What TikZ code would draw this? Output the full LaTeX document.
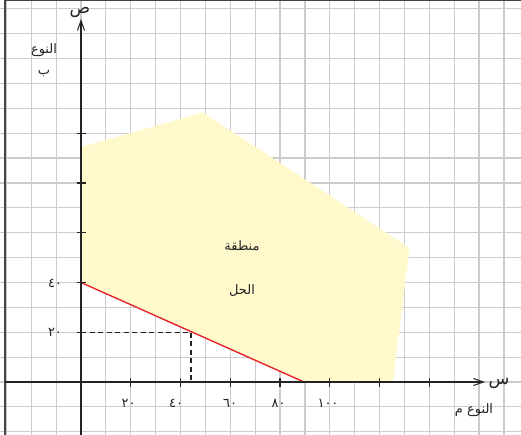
\documentclass[tikz,border=0pt]{standalone}
\usepackage{fontspec}
\usetikzlibrary{arrows.meta}
\TeXXeTstate=1
\newfontfamily\arabicfont[Script=Arabic]{DejaVu Sans}
\definecolor{gridgray}{RGB}{204,204,204}
\definecolor{regionyellow}{RGB}{255,249,204}
\definecolor{axisdark}{RGB}{35,35,35}
\definecolor{redline}{RGB}{232,38,42}
\tikzset{
  gridline/.style={draw=gridgray, line width=1.2pt},
  frameline/.style={draw=axisdark!85, line width=1.5pt},
  axisline/.style={draw=axisdark, line width=1.2pt},
  axisarrow/.style={axisline, -{Straight Barb[length=10pt,width=7pt,line width=1pt]}},
  tickmark/.style={draw=axisdark, line width=1.2pt},
  constraint/.style={draw=redline, line width=1.4pt},
  guide/.style={draw=axisdark, line width=1.1pt, dash pattern=on 5pt off 3.5pt},
  region/.style={fill=regionyellow},
  numlabel/.style={font=\arabicfont\fontsize{13}{15}\selectfont, text=axisdark, inner sep=0pt},
  wordlabel/.style={font=\arabicfont\fontsize{13}{15}\selectfont, text=axisdark, inner sep=0pt},
  axisletter/.style={font=\arabicfont\fontsize{17}{19}\selectfont, text=axisdark, inner sep=0pt}
}
\begin{document}
\begin{tikzpicture}[x=1pt,y=-1pt]
\useasboundingbox (0,0) rectangle (521,435);
\fill[white] (0,0) rectangle (521,435);
% grid
\foreach \k in {-3,...,17} \draw[gridline] ({81+24.88*\k},0) -- ({81+24.88*\k},435);
\foreach \k in {-2,...,15} \draw[gridline] (0,{382-24.88*\k}) -- (521,{382-24.88*\k});
% frame
\coordinate (FB) at (5,435);
\coordinate (FC) at (5,0.75);
\coordinate (FR) at (521,0.75);
\draw[frameline] (FB) -- (FC) -- (FR);
% feasible region
\coordinate (A) at (81,282.5);
\coordinate (B) at (304,382);
\coordinate (C) at (393,382);
\coordinate (D) at (409.5,248);
\coordinate (E) at (203,112.5);
\coordinate (F) at (81,147);
\fill[region] (A) -- (B) -- (C) -- (D) -- (E) -- (F) -- cycle;
% constraint line
\draw[constraint] (A) -- (B);
% guides
\coordinate (Y20) at (81,332.2);
\coordinate (P) at (191,332.2);
\coordinate (X44) at (191,382);
\draw[guide] (Y20) -- (P) -- (X44);
% axes
\coordinate (XL) at (5,382);
\coordinate (XR) at (485,382);
\coordinate (YB) at (81,435);
\coordinate (YT) at (81,19);
\draw[axisarrow] (XL) -- (XR);
\draw[axisarrow] (YB) -- (YT);
% ticks
\foreach \k in {1,...,7} {
  \coordinate (xt\k) at ({81+49.76*\k},382);
  \draw[tickmark] ([yshift=-4.5pt]xt\k) -- ([yshift=4.5pt]xt\k);
}
\foreach \k in {1,...,5} {
  \coordinate (yt\k) at (81,{382-49.76*\k});
  \draw[tickmark] ([xshift=-4.5pt]yt\k) -- ([xshift=4.5pt]yt\k);
}
% number labels
\node[numlabel] (ly20) at (55,332.5) {٢٠};
\node[numlabel] (ly40) at (55,283) {٤٠};
\node[numlabel] (lx20) at (128.5,403) {٢٠};
\node[numlabel] (lx40) at (176,403) {٤٠};
\node[numlabel] (lx60) at (230,403) {٦٠};
\node[numlabel] (lx80) at (278.5,403) {٨٠};
\node[numlabel] (lx100) at (328,403) {١٠٠};
% words
\node[wordlabel] (ylab1) at (44,50) {\beginR النوع\endR};
\node[wordlabel] (ylab2) at (44,73) {\beginR ب\endR};
\node[wordlabel] (xlab) at (474,410) {\beginR النوع م\endR};
\node[wordlabel] (reg1) at (242,246) {\beginR منطقة\endR};
\node[wordlabel] (reg2) at (242,291) {\beginR الحل\endR};
% axis letters
\node[axisletter, anchor=base] (sad) at (80,14) {\beginR ص\endR};
\node[axisletter, anchor=base] (sin) at (499,384) {\beginR س\endR};
\end{tikzpicture}
\end{document}
